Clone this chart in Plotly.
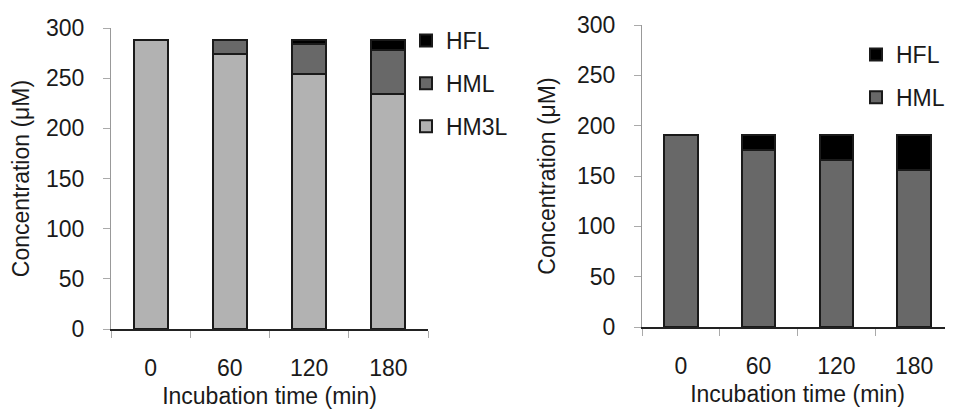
import plotly.graph_objects as go

categories = ["0", "60", "120", "180"]
# Left panel
left_hm3l = [288, 274, 254, 234]
left_hml = [0, 14, 30, 44]
left_hfl = [0, 0, 4, 10]
# Right panel
right_hml = [191, 176, 166, 156]
right_hfl = [0, 15, 25, 35]

y_ticks = [0, 50, 100, 150, 200, 250, 300]

C_HM3L = "#b2b2b2"
C_HML = "#686868"
C_HFL = "#000000"
FONT = "Liberation Sans, Arial, sans-serif"
FS = 23

# The page body has an 8px default margin, so the figure is drawn 8px in
OFF = 8
W, H = 953 - OFF, 411 - OFF


def px(x):
    return (x - OFF) / W


def py(y):
    return 1 - (y - OFF) / H


fig = go.Figure()


def bar(x, y, name, color, xa, ya, legend, group, rank):
    return go.Bar(x=x, y=y, name=name, xaxis=xa, yaxis=ya, legend=legend,
                  legendgroup=group, legendrank=rank,
                  marker=dict(color=color, line=dict(color="#1a1a1a", width=2)),
                  hoverinfo="x+y+name")


fig.add_trace(bar(categories, left_hm3l, "HM3L", C_HM3L, "x", "y", "legend", "a", 3))
fig.add_trace(bar(categories, left_hml, "HML", C_HML, "x", "y", "legend", "b", 2))
fig.add_trace(bar(categories, left_hfl, "HFL", C_HFL, "x", "y", "legend", "c", 1))
fig.add_trace(bar(categories, right_hml, "HML", C_HML, "x2", "y2", "legend2", "d", 2))
fig.add_trace(bar(categories, right_hfl, "HFL", C_HFL, "x2", "y2", "legend2", "e", 1))


def xaxis(domain, anchor):
    return dict(domain=domain, anchor=anchor, type="category",
                categoryorder="array", categoryarray=categories,
                range=[-0.5, 3.5], automargin=False,
                showline=True, linecolor="#222222", linewidth=1.5,
                ticks="outside", tickson="boundaries", ticklen=7,
                tickcolor="#aaaaaa", tickwidth=1, ticklabelstandoff=18,
                showgrid=False, zeroline=False,
                tickfont=dict(size=FS, color="#1a1a1a", family=FONT),
                title=dict(text="Incubation time (min)", standoff=8,
                           font=dict(size=FS, color="#1a1a1a", family=FONT)))


def yaxis(domain, anchor):
    return dict(domain=domain, anchor=anchor, range=[0, 300],
                tickvals=y_ticks, showline=True, linecolor="#999999",
                automargin=False,
                linewidth=1, ticks="outside", ticklen=7,
                tickcolor="#aaaaaa", tickwidth=1, ticklabelstandoff=14,
                showgrid=False, zeroline=False,
                tickfont=dict(size=FS, color="#1a1a1a", family=FONT),
                title=dict(text="Concentration (μM)", standoff=14,
                           font=dict(size=FS, color="#1a1a1a", family=FONT)))


fig.update_layout(
    width=W, height=H,
    margin=dict(l=0, r=0, t=0, b=0, autoexpand=False),
    paper_bgcolor="white", plot_bgcolor="white",
    barmode="stack", bargap=0.57,
    font=dict(family=FONT, size=FS, color="#1a1a1a"),
    xaxis=xaxis([px(111), px(428)], "y"),
    yaxis=yaxis([py(329), py(28)], "x"),
    xaxis2=xaxis([px(642), 1.0], "y2"),
    yaxis2=yaxis([py(327), py(25)], "x2"),
    legend=dict(x=px(406), y=py(19), xanchor="left", yanchor="top",
                traceorder="grouped", tracegroupgap=10,
                bgcolor="rgba(0,0,0,0)",
                font=dict(size=FS, family=FONT, color="#1a1a1a")),
    legend2=dict(x=px(856), y=py(33), xanchor="left", yanchor="top",
                 traceorder="grouped", tracegroupgap=10,
                 bgcolor="rgba(0,0,0,0)",
                 font=dict(size=FS, family=FONT, color="#1a1a1a")),
)

fig.write_html("out.html")
